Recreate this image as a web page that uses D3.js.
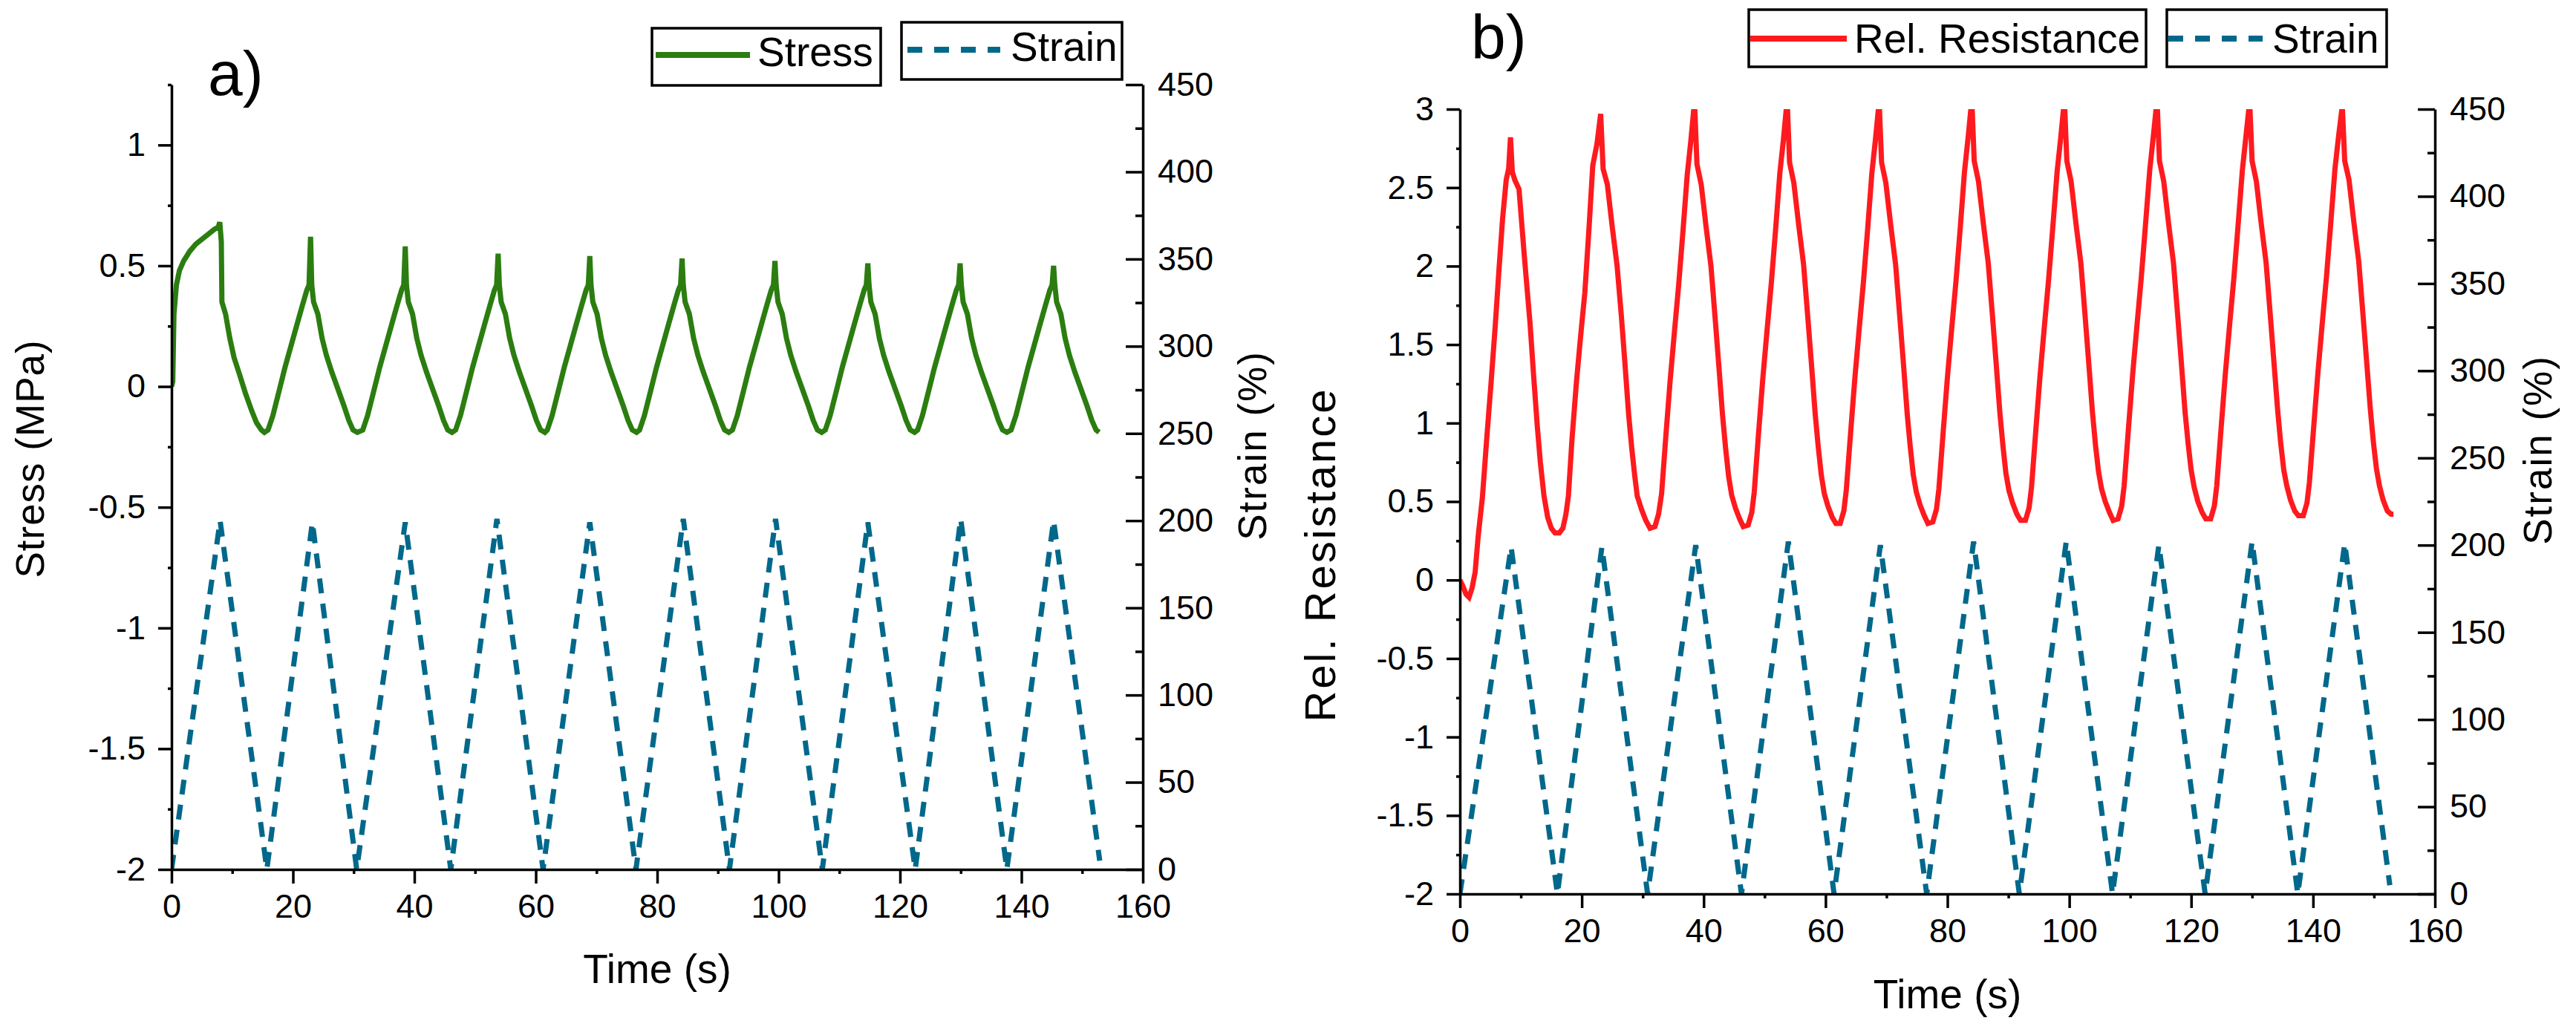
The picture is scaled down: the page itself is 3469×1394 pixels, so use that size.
<!DOCTYPE html>
<html lang="en">
<head>
<meta charset="UTF-8">
<title>Cyclic stress, strain and relative resistance</title>
<script src="https://d3js.org/d3.v7.min.js"></script>
<style>
    body {
        margin: 0;
        background: #fff;
    }
    svg text {
        font-family: 'Liberation Sans', Arial, sans-serif;
        fill: #000;
    }
    .axis path, .axis line {
        stroke: #000;
        stroke-width: 3.5px;
    }
    .axis text {
        font-size: 45px;
    }
</style>
</head>
<body>
<svg id="chart" width="3469" height="1394"></svg>
<script>
// ---- tick values ----
const timeTicks = [0, 20, 40, 60, 80, 100, 120, 140, 160];
const timeMinor = [10, 30, 50, 70, 90, 110, 130, 150];
const stressTicks = [-2, -1.5, -1, -0.5, 0, 0.5, 1];
const stressMinor = [-1.75, -1.25, -0.75, -0.25, 0.25, 0.75, 1.25];
const resistTicks = [-2, -1.5, -1, -0.5, 0, 0.5, 1, 1.5, 2, 2.5, 3];
const resistMinor = [-1.75, -1.25, -0.75, -0.25, 0.25, 0.75, 1.25, 1.75, 2.25, 2.75];
const strainTicks = [0, 50, 100, 150, 200, 250, 300, 350, 400, 450];
const strainMinor = [25, 75, 125, 175, 225, 275, 325, 375, 425];

// ---- panel a: stress (MPa) vs time (s) ----
const stressData = [
    [0, 0], [0.2, 0.02], [0.4, 0.3], [0.8, 0.42], [1.3, 0.48], [2.0, 0.52], [3.0, 0.56], [4.0, 0.59],
    [5.0, 0.61], [6.0, 0.63], [7.0, 0.65], [7.7, 0.66], [7.95, 0.68], [8.2, 0.6], [8.3, 0.35],
    [8.9, 0.30], [9.6, 0.20], [10.3, 0.12], [11.2, 0.05], [12.2, -0.03], [13.2, -0.10], [14.0, -0.15],
    [14.8, -0.18], [15.3, -0.19],
    [15.9, -0.18], [16.7, -0.12], [17.7, -0.02], [18.7, 0.08], [19.7, 0.17], [20.7, 0.26], [21.6, 0.34],
    [22.3, 0.40], [22.65, 0.42], [22.9, 0.62], [23.1, 0.42], [23.4, 0.35], [24.1, 0.30], [24.8, 0.20],
    [25.5, 0.13], [26.4, 0.06], [27.4, -0.01], [28.4, -0.08], [29.2, -0.14], [29.9, -0.18], [30.6, -0.19],
    [31.5, -0.18], [32.3, -0.12], [33.3, -0.02], [34.3, 0.08], [35.3, 0.17], [36.3, 0.26], [37.2, 0.34],
    [37.9, 0.40], [38.25, 0.42], [38.5, 0.58], [38.7, 0.42], [39.0, 0.35], [39.7, 0.30], [40.4, 0.20],
    [41.1, 0.13], [42.0, 0.06], [43.0, -0.01], [44.0, -0.08], [44.8, -0.14], [45.5, -0.18], [46.2, -0.19],
    [46.8, -0.18], [47.6, -0.12], [48.6, -0.02], [49.6, 0.08], [50.6, 0.17], [51.6, 0.26], [52.5, 0.34],
    [53.2, 0.40], [53.55, 0.42], [53.8, 0.55], [54.0, 0.42], [54.3, 0.35], [55.0, 0.30], [55.7, 0.20],
    [56.4, 0.13], [57.3, 0.06], [58.3, -0.01], [59.3, -0.08], [60.1, -0.14], [60.8, -0.18], [61.5, -0.19],
    [61.9, -0.18], [62.7, -0.12], [63.7, -0.02], [64.7, 0.08], [65.7, 0.17], [66.7, 0.26], [67.6, 0.34],
    [68.3, 0.40], [68.65, 0.42], [68.9, 0.54], [69.1, 0.42], [69.4, 0.35], [70.1, 0.30], [70.8, 0.20],
    [71.5, 0.13], [72.4, 0.06], [73.4, -0.01], [74.4, -0.08], [75.2, -0.14], [75.9, -0.18], [76.6, -0.19],
    [77.1, -0.18], [77.9, -0.12], [78.9, -0.02], [79.9, 0.08], [80.9, 0.17], [81.9, 0.26], [82.8, 0.34],
    [83.5, 0.40], [83.85, 0.42], [84.1, 0.53], [84.3, 0.42], [84.6, 0.35], [85.3, 0.30], [86.0, 0.20],
    [86.7, 0.13], [87.6, 0.06], [88.6, -0.01], [89.6, -0.08], [90.4, -0.14], [91.1, -0.18], [91.8, -0.19],
    [92.4, -0.18], [93.2, -0.12], [94.2, -0.02], [95.2, 0.08], [96.2, 0.17], [97.2, 0.26], [98.1, 0.34],
    [98.8, 0.40], [99.15, 0.42], [99.4, 0.52], [99.6, 0.42], [99.9, 0.35], [100.6, 0.30], [101.3, 0.20],
    [102.0, 0.13], [102.9, 0.06], [103.9, -0.01], [104.9, -0.08], [105.7, -0.14], [106.4, -0.18], [107.1, -0.19],
    [107.7, -0.18], [108.5, -0.12], [109.5, -0.02], [110.5, 0.08], [111.5, 0.17], [112.5, 0.26], [113.4, 0.34],
    [114.1, 0.40], [114.45, 0.42], [114.7, 0.51], [114.9, 0.42], [115.2, 0.35], [115.9, 0.30], [116.6, 0.20],
    [117.3, 0.13], [118.2, 0.06], [119.2, -0.01], [120.2, -0.08], [121.0, -0.14], [121.7, -0.18], [122.4, -0.19],
    [122.9, -0.18], [123.7, -0.12], [124.7, -0.02], [125.7, 0.08], [126.7, 0.17], [127.7, 0.26], [128.6, 0.34],
    [129.3, 0.40], [129.65, 0.42], [129.9, 0.51], [130.1, 0.42], [130.4, 0.35], [131.1, 0.30], [131.8, 0.20],
    [132.5, 0.13], [133.4, 0.06], [134.4, -0.01], [135.4, -0.08], [136.2, -0.14], [136.9, -0.18], [137.6, -0.19],
    [138.3, -0.18], [139.1, -0.12], [140.1, -0.02], [141.1, 0.08], [142.1, 0.17], [143.1, 0.26], [144.0, 0.34],
    [144.7, 0.40], [145.05, 0.42], [145.3, 0.50], [145.5, 0.42], [145.8, 0.35], [146.5, 0.30], [147.2, 0.20],
    [147.9, 0.13], [148.8, 0.06], [149.8, -0.01], [150.8, -0.08], [151.6, -0.14], [152.3, -0.18], [152.8, -0.19]
];

// strain (%) in panel a
const strainDataA = [
    [0, 0], [8.0, 200], [15.7, 0], [23.2, 199], [30.5, 0], [38.5, 199], [46.0, 0], [53.6, 201],
    [61.2, 0], [68.9, 199], [76.5, 0], [84.3, 201], [91.9, 0], [99.5, 201], [107.2, 0], [114.7, 199],
    [122.5, 0], [130.0, 201], [137.6, 0], [145.3, 200], [152.9, 5]
];

// ---- panel b: relative resistance vs time (s) ----
const resistanceData = [
    [0, 0], [0.5, -0.04], [1.0, -0.09], [1.5, -0.11], [2.0, -0.05], [2.5, 0.05], [3.0, 0.28], [3.7, 0.53],
    [4.4, 0.90], [5.1, 1.25], [5.8, 1.62], [6.4, 1.97], [7.0, 2.30], [7.6, 2.55], [8.0, 2.62], [8.3, 2.82],
    [8.6, 2.60], [9.0, 2.55], [9.7, 2.49], [10.6, 2.05], [11.5, 1.64], [12.1, 1.30], [12.7, 0.98], [13.2, 0.75],
    [13.8, 0.535], [14.4, 0.40], [15.0, 0.33], [15.6, 0.30], [16.3, 0.30],
    [16.9, 0.33], [17.4, 0.42], [17.8, 0.535], [18.4, 0.90], [19.1, 1.25], [19.8, 1.55], [20.5, 1.83],
    [21.2, 2.25], [21.8, 2.64], [22.5, 2.78], [23.1, 2.97], [23.5, 2.62], [24.2, 2.52], [25.0, 2.25],
    [25.8, 2.00], [26.5, 1.68], [27.1, 1.37], [27.7, 1.05], [28.2, 0.84], [28.7, 0.66], [29.1, 0.535],
    [29.8, 0.45], [30.5, 0.38], [31.2, 0.33],
    [32.0, 0.34], [32.6, 0.42], [33.1, 0.55], [33.8, 0.92], [34.5, 1.27], [35.2, 1.58], [35.9, 1.88],
    [36.6, 2.22], [37.3, 2.58], [37.9, 2.80], [38.5, 3.05], [38.9, 2.65], [39.6, 2.52], [40.4, 2.25],
    [41.2, 2.00], [41.9, 1.66], [42.5, 1.36], [43.1, 1.05], [43.6, 0.84], [44.1, 0.66], [44.6, 0.54],
    [45.2, 0.46], [45.9, 0.39], [46.5, 0.34],
    [47.3, 0.35], [47.9, 0.43], [48.3, 0.56], [49.0, 0.93], [49.7, 1.28], [50.4, 1.59], [51.1, 1.89],
    [51.8, 2.23], [52.5, 2.59], [53.1, 2.81], [53.7, 3.06], [54.1, 2.66], [54.8, 2.53], [55.6, 2.26],
    [56.4, 2.01], [57.1, 1.67], [57.7, 1.37], [58.3, 1.06], [58.8, 0.85], [59.3, 0.67], [59.8, 0.55],
    [60.4, 0.47], [61.1, 0.40], [61.7, 0.36],
    [62.4, 0.36], [63.0, 0.44], [63.4, 0.57], [64.1, 0.93], [64.8, 1.28], [65.5, 1.59], [66.2, 1.89],
    [66.9, 2.23], [67.6, 2.59], [68.2, 2.81], [68.8, 3.05], [69.2, 2.66], [69.9, 2.53], [70.7, 2.26],
    [71.5, 2.01], [72.2, 1.67], [72.8, 1.37], [73.4, 1.06], [73.9, 0.85], [74.4, 0.67], [74.9, 0.56],
    [75.5, 0.48], [76.2, 0.41], [76.8, 0.36],
    [77.6, 0.37], [78.2, 0.45], [78.6, 0.58], [79.3, 0.94], [80.0, 1.29], [80.7, 1.60], [81.4, 1.90],
    [82.1, 2.24], [82.8, 2.60], [83.4, 2.82], [84.0, 3.06], [84.4, 2.67], [85.1, 2.54], [85.9, 2.27],
    [86.7, 2.02], [87.4, 1.68], [88.0, 1.38], [88.6, 1.07], [89.1, 0.86], [89.6, 0.68], [90.1, 0.57],
    [90.7, 0.49], [91.4, 0.42], [92.0, 0.38],
    [92.8, 0.38], [93.4, 0.46], [93.8, 0.59], [94.5, 0.95], [95.2, 1.30], [95.9, 1.61], [96.6, 1.91],
    [97.3, 2.25], [98.0, 2.60], [98.6, 2.82], [99.2, 3.06], [99.6, 2.67], [100.3, 2.54], [101.1, 2.27],
    [101.9, 2.02], [102.6, 1.68], [103.2, 1.38], [103.8, 1.07], [104.3, 0.86], [104.8, 0.69], [105.3, 0.58],
    [105.9, 0.50], [106.6, 0.43], [107.2, 0.38],
    [108.0, 0.39], [108.6, 0.47], [109.0, 0.60], [109.7, 0.96], [110.4, 1.31], [111.1, 1.62], [111.8, 1.92],
    [112.5, 2.26], [113.2, 2.61], [113.8, 2.83], [114.4, 3.06], [114.8, 2.67], [115.5, 2.54], [116.3, 2.27],
    [117.1, 2.02], [117.8, 1.68], [118.4, 1.38], [119.0, 1.07], [119.5, 0.87], [120.0, 0.70], [120.5, 0.59],
    [121.1, 0.50], [121.8, 0.43], [122.4, 0.39],
    [123.2, 0.39], [123.8, 0.47], [124.2, 0.60], [124.9, 0.96], [125.6, 1.31], [126.3, 1.62], [127.0, 1.92],
    [127.7, 2.26], [128.4, 2.61], [129.0, 2.83], [129.6, 3.05], [130.0, 2.67], [130.7, 2.54], [131.5, 2.27],
    [132.3, 2.02], [133.0, 1.68], [133.6, 1.38], [134.2, 1.08], [134.7, 0.87], [135.2, 0.70], [135.7, 0.60],
    [136.3, 0.51], [137.0, 0.44], [137.6, 0.41],
    [138.4, 0.41], [139.0, 0.49], [139.4, 0.62], [140.1, 0.97], [140.8, 1.32], [141.5, 1.63], [142.2, 1.93],
    [142.9, 2.27], [143.6, 2.62], [144.2, 2.83], [144.8, 3.02], [145.2, 2.67], [145.9, 2.55], [146.7, 2.28],
    [147.5, 2.03], [148.2, 1.69], [148.8, 1.39], [149.4, 1.09], [149.9, 0.88], [150.4, 0.71], [150.9, 0.60],
    [151.5, 0.51], [152.2, 0.44], [152.8, 0.42], [153.2, 0.42]
];

// strain (%) in panel b
const strainDataB = [
    [0, 0], [8.4, 199], [16.0, 0], [23.3, 199], [30.8, 0], [38.7, 200], [46.2, 0], [53.9, 202],
    [61.4, 0], [69.0, 200], [76.6, 0], [84.3, 202], [91.8, 0], [99.5, 202], [107.1, 0], [114.7, 200],
    [122.3, 0], [130.0, 202], [137.5, 0], [145.2, 201], [152.6, 5]
];

const green = "#2b7d10";
const blue = "#00688b";
const red = "#fe1a1e";

const svg = d3.select("#chart");
svg.append("rect").attr("width", 3469).attr("height", 1394).attr("fill", "#fff");

const fmt = d => String(d);

function drawPanel(p) {
    const g = svg.append("g");

    const x = d3.scaleLinear().domain([0, 160]).range([p.left, p.right]);
    const yL = d3.scaleLinear().domain(p.leftDomain).range([p.bottom, p.top]);
    const yR = d3.scaleLinear().domain([0, 450]).range([p.bottom, p.top]);

    svg.append("clipPath").attr("id", "clip-" + p.id)
        .append("rect")
        .attr("x", p.left).attr("y", p.top)
        .attr("width", p.right - p.left).attr("height", p.bottom - p.top);

    // dashed strain trace (right axis)
    g.append("path")
        .datum(p.strain)
        .attr("clip-path", `url(#clip-${p.id})`)
        .attr("fill", "none")
        .attr("stroke", blue)
        .attr("stroke-width", 7)
        .attr("stroke-dasharray", "20,14")
        .attr("d", d3.line().x(d => x(d[0])).y(d => yR(d[1])));

    // main trace (left axis)
    g.append("path")
        .datum(p.main)
        .attr("clip-path", `url(#clip-${p.id})`)
        .attr("fill", "none")
        .attr("stroke", p.color)
        .attr("stroke-width", 7)
        .attr("d", d3.line().x(d => x(d[0])).y(d => yL(d[1])));

    // bottom axis
    g.append("g").attr("class", "axis")
        .attr("transform", `translate(0,${p.bottom})`)
        .call(d3.axisBottom(x).tickValues(timeTicks).tickSize(19).tickSizeOuter(0).tickPadding(14).tickFormat(fmt));
    g.append("g").attr("class", "axis")
        .attr("transform", `translate(0,${p.bottom})`)
        .call(d3.axisBottom(x).tickValues(timeMinor).tickSize(6).tickFormat(""))
        .select(".domain").remove();

    // left axis
    g.append("g").attr("class", "axis")
        .attr("transform", `translate(${p.left},0)`)
        .call(d3.axisLeft(yL).tickValues(p.leftTicks).tickSize(18).tickSizeOuter(0).tickPadding(17).tickFormat(fmt));
    g.append("g").attr("class", "axis")
        .attr("transform", `translate(${p.left},0)`)
        .call(d3.axisLeft(yL).tickValues(p.leftMinor).tickSize(5).tickFormat(""))
        .select(".domain").remove();

    // right axis (ticks point inward)
    g.append("g").attr("class", "axis")
        .attr("transform", `translate(${p.right},0)`)
        .call(d3.axisRight(yR).tickValues(strainTicks).tickSize(-23).tickSizeOuter(0).tickPadding(20).tickFormat(fmt));
    g.append("g").attr("class", "axis")
        .attr("transform", `translate(${p.right},0)`)
        .call(d3.axisRight(yR).tickValues(strainMinor).tickSize(-10).tickFormat(""))
        .select(".domain").remove();

    // axis titles
    g.append("text")
        .attr("x", (p.left + p.right) / 2).attr("y", p.timeTitleY)
        .attr("text-anchor", "middle")
        .style("font-size", "55px")
        .text("Time (s)");

    g.append("text")
        .attr("transform", `translate(${p.leftTitle[0]},${p.leftTitle[1]}) rotate(-90)`)
        .attr("text-anchor", "middle")
        .style("font-size", p.leftTitle[2] + "px")
        .style("letter-spacing", p.leftTitle[3] + "px")
        .text(p.leftLabel);

    g.append("text")
        .attr("transform", `translate(${p.rightTitle[0]},${p.rightTitle[1]}) rotate(-90)`)
        .attr("text-anchor", "middle")
        .style("font-size", "53px")
        .style("letter-spacing", "2px")
        .text("Strain (%)");

    // panel letter
    g.append("text")
        .attr("x", p.letterPos[0]).attr("y", p.letterPos[1])
        .style("font-size", "84px")
        .text(p.letter);

    // legend boxes
    p.legend.forEach(item => {
        const lg = g.append("g");
        lg.append("rect")
            .attr("x", item.box[0]).attr("y", item.box[1])
            .attr("width", item.box[2] - item.box[0]).attr("height", item.box[3] - item.box[1])
            .attr("fill", "#fff").attr("stroke", "#000").attr("stroke-width", 3.5);
        lg.append("line")
            .attr("x1", item.line[0]).attr("x2", item.line[1])
            .attr("y1", item.line[2]).attr("y2", item.line[2])
            .attr("stroke", item.color).attr("stroke-width", 8)
            .attr("stroke-dasharray", item.dashed ? "20,16" : null);
        lg.append("text")
            .attr("x", item.text[0]).attr("y", item.text[1])
            .style("font-size", "55px")
            .text(item.label);
    });
}

drawPanel({
    id: "a",
    left: 231, right: 1539, top: 114, bottom: 1171,
    leftDomain: [-2, 1.25],
    leftTicks: stressTicks, leftMinor: stressMinor,
    main: stressData, strain: strainDataA, color: green,
    timeTitleY: 1324,
    leftLabel: "Stress (MPa)", leftTitle: [59, 618, 53, 1],
    rightTitle: [1705, 600],
    letter: "a)", letterPos: [280, 128],
    legend: [
        { box: [878, 38, 1186, 115], line: [883, 1010, 74], color: green, dashed: false, text: [1020, 89], label: "Stress" },
        { box: [1214, 30, 1511, 107], line: [1222, 1347, 67], color: blue, dashed: true, text: [1361, 82], label: "Strain" }
    ]
});

drawPanel({
    id: "b",
    left: 1966, right: 3279, top: 147, bottom: 1204,
    leftDomain: [-2, 3],
    leftTicks: resistTicks, leftMinor: resistMinor,
    main: resistanceData, strain: strainDataB, color: red,
    timeTitleY: 1358,
    leftLabel: "Rel. Resistance", leftTitle: [1798, 747, 58, 3],
    rightTitle: [3436, 606],
    letter: "b)", letterPos: [1981, 79],
    legend: [
        { box: [2355, 13, 2890, 90], line: [2357, 2487, 52], color: red, dashed: false, text: [2497, 71], label: "Rel. Resistance" },
        { box: [2918, 13, 3214, 90], line: [2920, 3047, 52], color: blue, dashed: true, text: [3060, 71], label: "Strain" }
    ]
});
</script>
</body>
</html>
